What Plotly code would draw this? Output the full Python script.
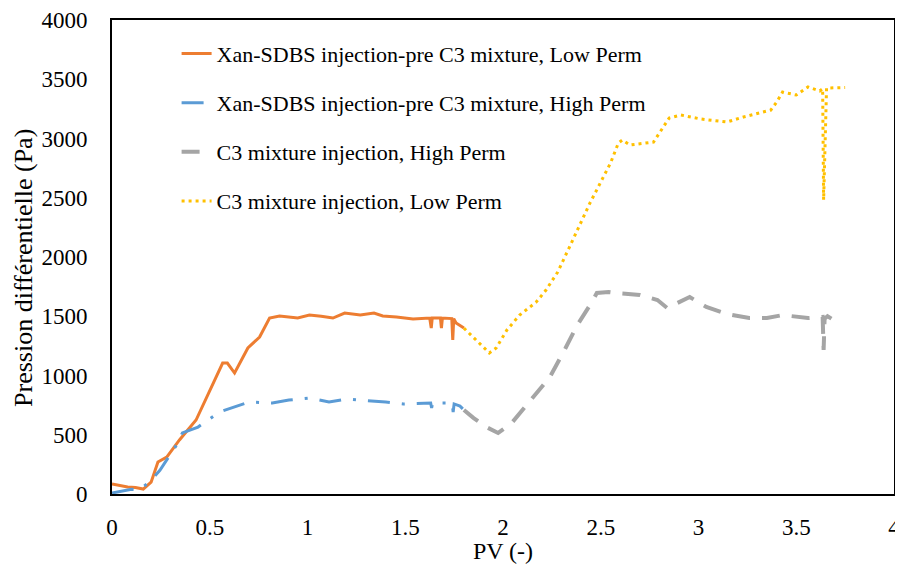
import plotly.graph_objects as go

# Xan-SDBS injection-pre C3 mixture, Low Perm
low_xan_pv = [0, 0.04, 0.08, 0.12, 0.16, 0.2, 0.235, 0.28, 0.345, 0.43, 0.51, 0.566, 0.59,
              0.627, 0.695, 0.755, 0.806, 0.857, 0.95, 1.01, 1.07, 1.13, 1.19, 1.27, 1.34,
              1.385, 1.455, 1.54, 1.625, 1.633, 1.638, 1.68, 1.685, 1.69, 1.738, 1.743, 1.748,
              1.76, 1.80]
low_xan_dp = [85, 70, 60, 55, 42, 100, 270, 312, 456, 624, 903, 1105, 1105,
              1021, 1232, 1325, 1485, 1502, 1485, 1510, 1500, 1485, 1527, 1510, 1527,
              1502, 1494, 1477, 1485, 1400, 1485, 1485, 1400, 1485, 1480, 1300, 1480,
              1443, 1400]

# Xan-SDBS injection-pre C3 mixture, High Perm
high_xan_pv = [0, 0.05, 0.1, 0.14, 0.19, 0.245, 0.33, 0.36, 0.44, 0.55, 0.627, 0.70, 0.82,
               0.905, 1.01, 1.11, 1.2, 1.28, 1.40, 1.49, 1.57, 1.63, 1.635, 1.64, 1.66, 1.74,
               1.745, 1.75, 1.78, 1.80]
high_xan_dp = [8, 25, 40, 35, 100, 200, 413, 515, 565, 692, 734, 776, 768,
               793, 810, 776, 802, 793, 776, 760, 768, 768, 726, 768, 768, 768,
               692, 760, 742, 709]

# C3 mixture injection, High Perm
high_c3_pv = [1.80, 1.85, 1.915, 1.975, 2.045, 2.13, 2.24, 2.32, 2.38, 2.455, 2.48, 2.54,
              2.58, 2.70, 2.79, 2.84, 2.92, 2.955, 3.04, 3.145, 3.26, 3.35, 3.43, 3.56,
              3.635, 3.64, 3.645, 3.66, 3.68]
high_c3_dp = [709, 641, 565, 515, 600, 768, 987, 1232, 1426, 1620, 1696, 1705,
              1696, 1680, 1637, 1570, 1629, 1662, 1578, 1519, 1485, 1485, 1510, 1485,
              1494, 1215, 1480, 1500, 1480]

# C3 mixture injection, Low Perm
low_c3_pv = [1.80, 1.88, 1.93, 1.965, 2.02, 2.085, 2.17, 2.22, 2.28, 2.34, 2.445, 2.55,
             2.59, 2.61, 2.65, 2.77, 2.80, 2.85, 2.91, 3.01, 3.145, 3.23, 3.37, 3.40,
             3.43, 3.50, 3.56, 3.62, 3.635, 3.64, 3.655, 3.73, 3.75]
low_c3_dp = [1400, 1274, 1190, 1232, 1384, 1510, 1620, 1721, 1873, 2084, 2456, 2793,
             2962, 2987, 2945, 2970, 3046, 3173, 3198, 3165, 3139, 3181, 3240, 3308,
             3392, 3367, 3435, 3401, 3420, 2481, 3426, 3426, 3430]

FONT = "Liberation Serif"

fig = go.Figure()
fig.add_trace(go.Scatter(x=low_xan_pv, y=low_xan_dp, mode="lines", legendgroup="a",
                         name="Xan-SDBS injection-pre C3 mixture, Low Perm",
                         line=dict(color="#ED7D31", width=3)))
fig.add_trace(go.Scatter(x=high_xan_pv, y=high_xan_dp, mode="lines", legendgroup="b",
                         name="Xan-SDBS injection-pre C3 mixture, High Perm",
                         line=dict(color="#5B9BD5", width=3, dash="22px,12px,3px,12px")))
fig.add_trace(go.Scatter(x=high_c3_pv, y=high_c3_dp, mode="lines", legendgroup="c",
                         name="C3 mixture injection, High Perm",
                         line=dict(color="#A5A5A5", width=4, dash="18px,12px")))
fig.add_trace(go.Scatter(x=low_c3_pv, y=low_c3_dp, mode="lines", legendgroup="d",
                         name="C3 mixture injection, Low Perm",
                         line=dict(color="#FFC000", width=3, dash="3px,4px")))

# the page body adds an 8px margin, so the figure is trimmed to fit 903x564
fig.update_layout(
    width=895, height=556,
    margin=dict(l=104, r=9, t=12, b=70),
    plot_bgcolor="white", paper_bgcolor="white",
    font=dict(family=FONT, size=23, color="black"),
    legend=dict(x=0.0826, y=0.973, xanchor="left", yanchor="top",
                font=dict(family=FONT, size=22), tracegroupgap=17.5,
                bgcolor="rgba(0,0,0,0)"),
)
fig.update_xaxes(range=[0, 4], dtick=0.5, showgrid=False, zeroline=False,
                 showline=True, linecolor="black", linewidth=2, mirror=True,
                 ticks="", ticklabelstandoff=11, automargin=False,
                 title=dict(text="PV (-)", standoff=1, font=dict(size=24)))
fig.update_yaxes(range=[0, 4000], dtick=500, showgrid=False, zeroline=False,
                 showline=True, linecolor="black", linewidth=2, mirror=True,
                 ticks="", ticklabelstandoff=18, automargin=False)

# y title as annotation: in the original it sits a little below the plot centre
fig.add_annotation(text="Pression différentielle (Pa)", textangle=-90,
                   xref="paper", yref="paper", x=-0.1125, y=0.477,
                   xanchor="center", yanchor="middle", showarrow=False,
                   font=dict(family=FONT, size=26))

fig.write_html("out.html")
